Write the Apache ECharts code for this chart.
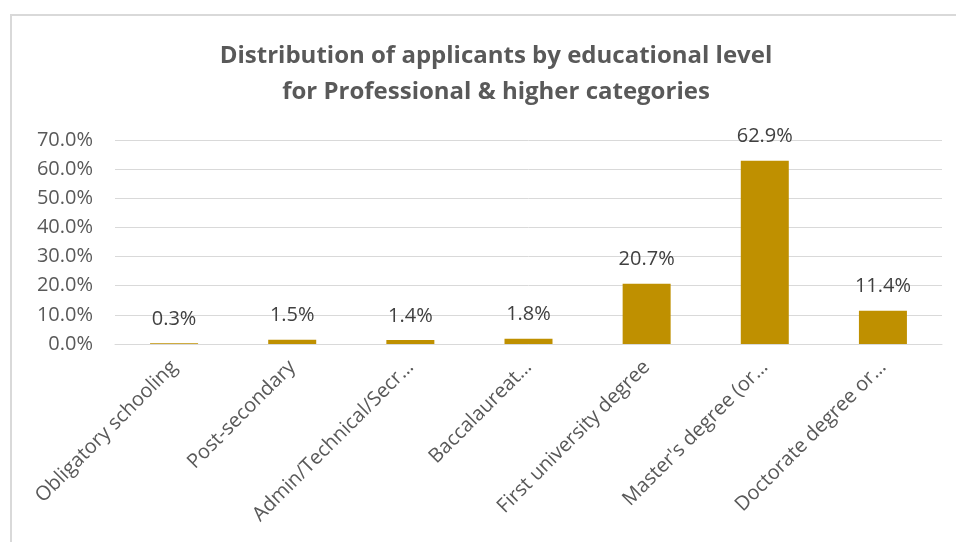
<!DOCTYPE html>
<html><head><meta charset="utf-8">
<script src="https://cdn.jsdelivr.net/npm/echarts@6/dist/echarts.min.js"></script>
<style>
html,body{margin:0;padding:0;background:#fff;}
#frame{position:absolute;left:10px;top:14px;width:960px;height:540px;border-left:2px solid #d9d9d9;border-top:2px solid #d9d9d9;}
#main{position:absolute;left:0;top:0;width:956px;height:542px;}
</style></head>
<body>
<div id="frame"></div>
<div id="main"></div>
<script>
const categories = ["Obligatory schooling","Post-secondary","Admin/Technical/Secr…","Baccalaureat…","First university degree","Master's degree (or…","Doctorate degree or…"];
const values = [0.3, 1.5, 1.4, 1.8, 20.7, 62.9, 11.4];
const yTicks = {min:0, max:70, interval:10};
const titleText = "Distribution of applicants by educational level\nfor Professional & higher categories";

const chart = echarts.init(document.getElementById('main'), null, {renderer:'canvas'});
const font = '"Open Sans", "Noto Sans", sans-serif';
chart.setOption({
  backgroundColor:'transparent',
  animation:false,
  title:{text:titleText,left:491,textAlign:'center',top:33,
    textStyle:{fontFamily:font,fontSize:24,fontWeight:'bold',color:'#595959',lineHeight:36}},
  grid:{left:115,right:14,top:140,bottom:198},
  xAxis:{type:'category',data:categories,
    axisLine:{lineStyle:{color:'#d9d9d9',width:1}},axisTick:{show:false},
    axisLabel:{rotate:45,interval:0,fontFamily:font,fontSize:20,color:'#595959',margin:20}},
  yAxis:{type:'value',min:yTicks.min,max:yTicks.max,interval:yTicks.interval,
    axisLine:{show:false},axisTick:{show:false},
    splitLine:{lineStyle:{color:'#d9d9d9',width:1}},
    axisLabel:{formatter:v=>v.toFixed(1)+'%',fontFamily:font,fontSize:20,color:'#595959',margin:22}},
  series:[{type:'bar',data:values,barWidth:48,itemStyle:{color:'#BF9000'},
    label:{show:true,position:'top',distance:14,formatter:p=>p.value.toFixed(1)+'%',
      fontFamily:font,fontSize:20,color:'#404040'}}]
});
</script>
</body></html>
